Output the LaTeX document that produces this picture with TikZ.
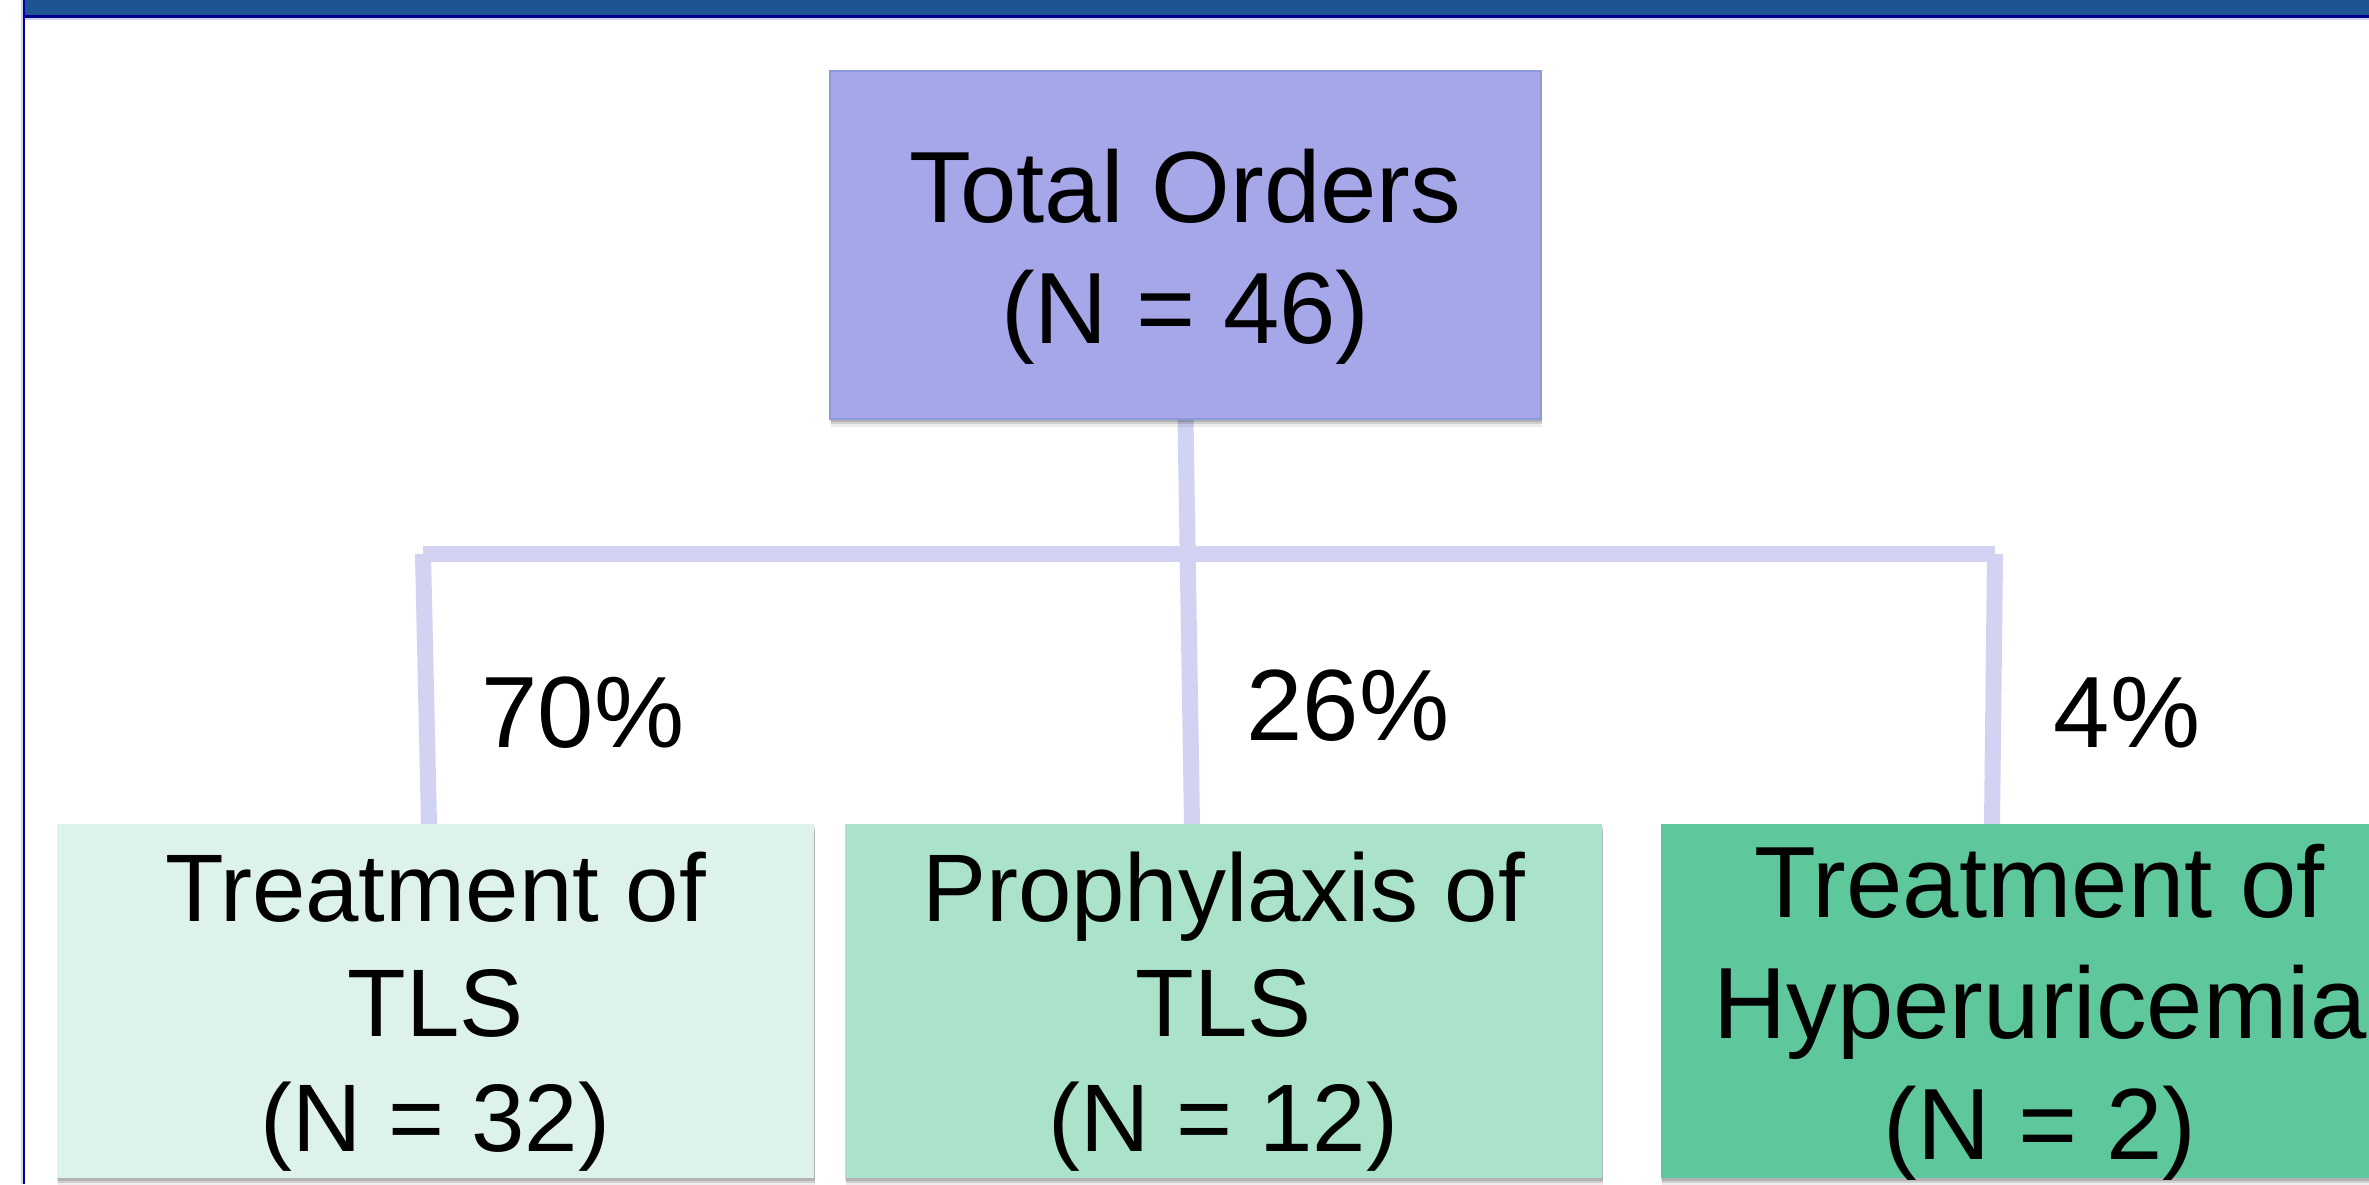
\documentclass[tikz,border=0pt]{standalone}
\usepackage{fontspec}
\setmainfont{Liberation Sans}
\usetikzlibrary{shadows,calc}
\definecolor{band}{HTML}{1F5494}
\definecolor{navy}{HTML}{00008C}
\definecolor{leftline}{HTML}{0000A0}
\definecolor{topfill}{HTML}{A5A7E8}
\definecolor{topline}{HTML}{8C9ADC}
\definecolor{lfill}{HTML}{DDF2EA}
\definecolor{mfill}{HTML}{ABE3CA}
\definecolor{rfill}{HTML}{5EC89C}
\definecolor{conn}{HTML}{D2D3F2}
\pgfdeclarelayer{back}
\pgfsetlayers{back,main}
\begin{document}
\begin{tikzpicture}[x=0.01cm,y=-0.01cm,
  softshadow/.style={
    drop shadow={shadow xshift=0.005cm, shadow yshift=-0.025cm, opacity=0.14, fill=black},
    drop shadow={shadow xshift=0.01cm, shadow yshift=-0.05cm, opacity=0.12, fill=black},
    drop shadow={shadow xshift=0.012cm, shadow yshift=-0.08cm, opacity=0.07, fill=black}},
  boxstyle/.style={rectangle, inner sep=0pt, outer sep=0pt, softshadow},
  bigtext/.style={font=\fontsize{28.8}{34.4}\selectfont, align=center, inner sep=0pt},
  smalltext/.style={font=\fontsize{27.3}{32.7}\selectfont, align=center, inner sep=0pt},
  pct/.style={font=\fontsize{28.8}{34.4}\selectfont, inner sep=0pt, anchor=base},
  connector/.style={draw=conn, line width=0.16cm}]
\useasboundingbox (0,0) rectangle (2369,1184);
\begin{pgfonlayer}{back}
  \fill[white] (0,0) rectangle (2369,1184);
  \fill[band] (23,0) rectangle (2369,15);
  \fill[navy] (23,15) rectangle (2369,18);
  \fill[conn] (23,18) rectangle (2369,19.5);
  \fill[conn] (21,0) rectangle (22.6,1184);
  \fill[leftline] (22.6,0) rectangle (25.4,1184);
\end{pgfonlayer}

% boxes
\node[boxstyle, fill=topfill, draw=topline, line width=0.02cm,
      minimum width=7.11cm, minimum height=3.48cm] (total) at (1185.5,245) {};
\node[boxstyle, fill=lfill, minimum width=7.57cm, minimum height=3.54cm] (treat) at (435.5,1001) {};
\node[boxstyle, fill=mfill, minimum width=7.57cm, minimum height=3.54cm] (proph) at (1223.5,1001) {};
\node[boxstyle, fill=rfill, minimum width=7.58cm, minimum height=3.54cm] (hyper) at (2040,1001) {};

% texts
\node[bigtext] (totaltxt) at (1185.5,257) {Total Orders\\(N = 46)};
\node[smalltext] (treattxt) at (435.5,1011.5) {Treatment of\\TLS\\(N = 32)};
\node[smalltext] (prophtxt) at (1223.5,1011.5) {Prophylaxis of\\TLS\\(N = 12)};
\node[bigtext] (hypertxt) at (2040,1012) {Treatment of\\Hyperuricemia\\(N = 2)};

\node[pct] (p70) at (583,747) {70\%};
\node[pct] (p26) at (1348,740) {26\%};
\node[pct] (p4) at (2127,747) {4\%};

% connectors
\coordinate (barL) at (423,554);
\coordinate (barR) at (1995,554);
\coordinate (midBot) at (1192,824);
\coordinate (lBot) at (429,824);
\coordinate (rBot) at (1992,824);
\begin{pgfonlayer}{back}
  \draw[connector] (total.south) -- (midBot);
  \draw[connector] (barL) -- (barR);
  \draw[connector] (barL) -- (lBot);
  \draw[connector] (barR) -- (rBot);
\end{pgfonlayer}
\end{tikzpicture}
\end{document}
